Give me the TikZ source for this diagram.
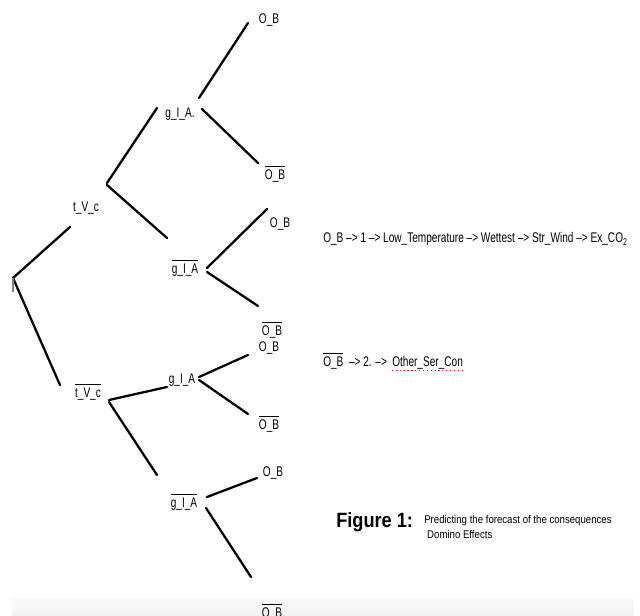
\documentclass[tikz,border=0pt]{standalone}
\usepackage{fontspec}
\setmainfont{Liberation Sans}[FakeStretch=0.72]
\newfontfamily\capfont{Liberation Sans}[FakeStretch=0.86]
\newfontfamily\figfont{Liberation Sans}[FakeStretch=0.88]
\newcommand{\ovl}[1]{\leavevmode\vbox{\hrule height 0.7pt\kern 2.6pt\hbox{#1}}}
\begin{document}
\begin{tikzpicture}[x=0.75pt,y=-0.75pt,
  lbl/.style={font=\fontsize{10.5}{12}\selectfont, inner sep=0pt, anchor=base},
  txt/.style={font=\fontsize{10.5}{12}\selectfont, inner sep=0pt, anchor=base west},
  branch/.style={line width=1.7pt, line cap=round},
  figtxt/.style={font=\figfont\bfseries\fontsize{15.5}{18}\selectfont, inner sep=0pt, anchor=base west},
  captxt/.style={font=\capfont\fontsize{8.4}{11.2}\selectfont, inner sep=0pt, anchor=north west, align=left}]
\useasboundingbox (0,0) rectangle (640,616);
\fill[white] (0,0) rectangle (640,616);
\shade[top color=gray!4, bottom color=gray!11] (12,599) rectangle (634,616);

% labels
\node[lbl] (ob1) at (269,24) {O\_B};
\node[lbl] (gia1) at (180,118) {g\_I\_A.};
\node[lbl] (nob1) at (275,180) {\ovl{O\_B}};
\node[lbl] (tvc) at (86,212) {t\_V\_c};
\node[lbl] (ngia1) at (185,274) {\ovl{g\_I\_A}};
\node[lbl] (ob2) at (280,228) {O\_B};
\node[lbl] (nob2) at (272,336) {\ovl{O\_B}};
\node[lbl] (ob3) at (269,352) {O\_B};
\node[lbl] (ntvc) at (88,398) {\ovl{t\_V\_c}};
\node[lbl] (gia2) at (182,384) {g\_I\_A};
\node[lbl] (nob3) at (269,430) {\ovl{O\_B}};
\node[lbl] (ngia2) at (184,508) {\ovl{g\_I\_A}};
\node[lbl] (ob4) at (273,477) {O\_B};
\node[lbl] (nob4) at (272,618) {\ovl{O\_B}};

% branch end points
\coordinate (a1) at (199,98);  \coordinate (b1) at (248,23);
\coordinate (a2) at (202,109); \coordinate (b2) at (258,163);
\coordinate (a3) at (107,183); \coordinate (b3) at (157,108);
\coordinate (a4) at (107,185); \coordinate (b4) at (167,238);
\coordinate (b5) at (70,227);  \coordinate (root) at (13,278);
\coordinate (b6) at (60,385);  \coordinate (tick) at (13,292);
\coordinate (a7) at (207,268); \coordinate (b7) at (267,209);
\coordinate (a8) at (207,272); \coordinate (b8) at (258,306);
\coordinate (a9) at (109,400); \coordinate (b9) at (167,387);
\coordinate (a10) at (199,377); \coordinate (b10) at (248,355);
\coordinate (a11) at (199,380); \coordinate (b11) at (248,414);
\coordinate (a12) at (109,402); \coordinate (b12) at (157,475);
\coordinate (a13) at (207,497); \coordinate (b13) at (257,478);
\coordinate (a14) at (206,508); \coordinate (b14) at (251,577);

\draw[branch] (a1) -- (b1);
\draw[branch] (a2) -- (b2);
\draw[branch] (a3) -- (b3);
\draw[branch] (a4) -- (b4);
\draw[branch] (root) -- (b5);
\draw[branch] (root) -- (b6);
\draw[line width=0.8pt, gray] (root) -- (tick);
\draw[branch] (a7) -- (b7);
\draw[branch] (a8) -- (b8);
\draw[branch] (a9) -- (b9);
\draw[branch] (a10) -- (b10);
\draw[branch] (a11) -- (b11);
\draw[branch] (a12) -- (b12);
\draw[branch] (a13) -- (b13);
\draw[branch] (a14) -- (b14);

% right-hand texts
\node[txt] (line1) at (323,243) {O\_B –> 1 –> Low\_Temperature –> Wettest –> Str\_Wind –> Ex\_CO\textsubscript{2}};
\node[txt] (line2) at (323,367) {\ovl{O\_B}\ \ –> 2. –>};
\node[txt] (osc) at (392,367) {Other\_Ser\_Con};
\draw[red, dotted, line width=0.9pt] ([yshift=-2.6pt]osc.base west) -- ([yshift=-2.6pt]osc.base east);

\node[figtxt] (fig) at (336,528) {Figure 1:};
\node[captxt] (cap) at (424,515) {Predicting the forecast of the consequences\\\hspace*{2.2pt}Domino Effects};
\end{tikzpicture}
\end{document}
